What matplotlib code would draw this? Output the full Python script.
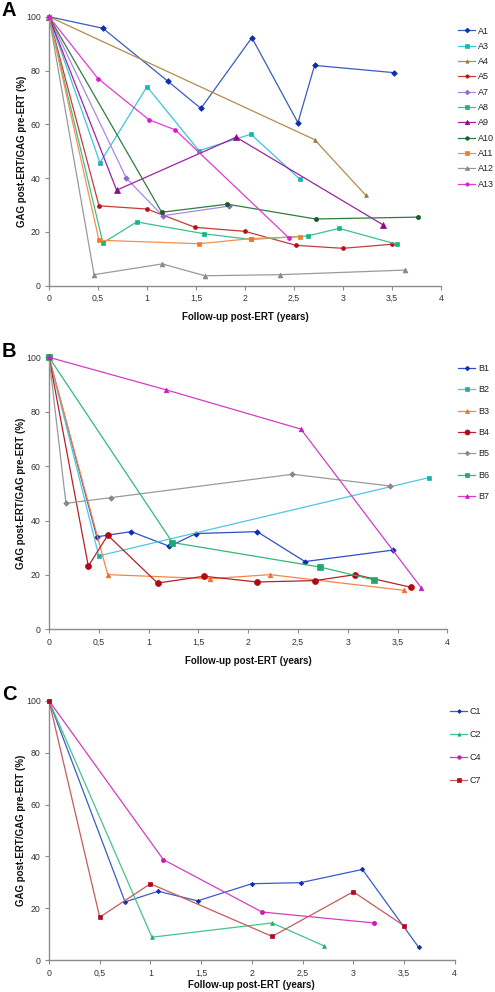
import matplotlib
matplotlib.use("Agg")
import matplotlib.pyplot as plt
from matplotlib.ticker import FixedLocator, FixedFormatter

plt.rcParams['font.family'] = ['Liberation Sans', 'DejaVu Sans']

# ---------------- Panel A data ----------------
A_labels = ["A1", "A3", "A4", "A5", "A7", "A8", "A9", "A10", "A11", "A12", "A13"]
A1_x = [0, 0.55, 1.21, 1.55, 2.07, 2.54, 2.71, 3.52]
A1_y = [100, 95.7, 76.1, 65.9, 92.2, 60.6, 81.9, 79.2]
A3_x = [0, 0.52, 1.0, 1.53, 2.06, 2.56]
A3_y = [100, 45.7, 74.0, 50.2, 56.3, 39.6]
A4_x = [0, 2.71, 3.23]
A4_y = [100, 54.3, 33.7]
A5_x = [0, 0.51, 1.0, 1.49, 2.0, 2.52, 3.0, 3.5]
A5_y = [100, 29.7, 28.5, 21.7, 20.2, 15.0, 13.9, 15.4]
A7_x = [0, 0.79, 1.16, 1.84]
A7_y = [100, 39.9, 26.0, 29.6]
A8_x = [0, 0.55, 0.895, 1.585, 2.06, 2.64, 2.96, 3.55]
A8_y = [100, 15.9, 23.7, 19.3, 17.2, 18.5, 21.3, 15.4]
A9_x = [0, 0.69, 1.91, 3.41]
A9_y = [100, 35.5, 55.2, 22.6]
A10_x = [0, 1.15, 1.82, 2.72, 3.77]
A10_y = [100, 27.3, 30.3, 24.8, 25.5]
A11_x = [0, 0.51, 1.53, 2.06, 2.56]
A11_y = [100, 16.9, 15.6, 17.5, 18.2]
A12_x = [0, 0.46, 1.156, 1.59, 2.36, 3.63]
A12_y = [100, 4.1, 8.1, 3.7, 4.1, 5.8]
A13_x = [0, 0.5, 1.02, 1.29, 2.45]
A13_y = [100, 77.0, 61.7, 57.9, 17.7]

# ---------------- Panel B data ----------------
B_labels = ["B1", "B2", "B3", "B4", "B5", "B6", "B7"]
B1_x = [0, 0.48, 0.825, 1.21, 1.476, 2.09, 2.57, 3.45]
B1_y = [100, 34.0, 35.9, 30.5, 35.2, 35.9, 24.9, 29.1]
B2_x = [0, 0.5, 3.82]
B2_y = [100, 27.0, 55.8]
B3_x = [0, 0.59, 1.62, 2.22, 3.57]
B3_y = [100, 20.1, 18.6, 20.1, 14.3]
B4_x = [0, 0.395, 0.59, 1.09, 1.556, 2.09, 2.67, 3.075, 3.64]
B4_y = [100, 23.2, 34.6, 17.0, 19.5, 17.4, 17.9, 20.1, 15.4]
B5_x = [0, 0.17, 0.62, 2.445, 3.42]
B5_y = [100, 46.3, 48.4, 57.0, 52.7]
B6_x = [0, 1.24, 2.72, 3.26]
B6_y = [100, 31.9, 22.9, 18.2]
B7_x = [0, 1.18, 2.53, 3.74]
B7_y = [100, 88.0, 73.6, 15.2]

# ---------------- Panel C data ----------------
C_labels = ["C1", "C2", "C4", "C7"]
C1_x = [0, 0.75, 1.077, 1.465, 2.0, 2.48, 3.09, 3.645]
C1_y = [100, 22.5, 26.6, 22.9, 29.5, 29.9, 35.0, 5.0]
C2_x = [0, 1.015, 2.2, 2.715]
C2_y = [100, 8.9, 14.4, 5.5]
C4_x = [0, 1.127, 2.1, 3.2]
C4_y = [100, 38.8, 18.6, 14.4]
C7_x = [0, 0.5, 1.0, 2.2, 3.0, 3.5]
C7_y = [100, 16.6, 29.5, 9.2, 26.4, 13.3]

x_ticks = [0, 0.5, 1, 1.5, 2, 2.5, 3, 3.5, 4]
x_tick_labels = ["0", "0,5", "1", "1,5", "2", "2,5", "3", "3,5", "4"]
y_ticks = [0, 20, 40, 60, 80, 100]
y_tick_labels = ["0", "20", "40", "60", "80", "100"]

# styles: (line colour, marker, marker colour, marker size)
A_styles = [
    ("#3a5cc0", "D", "#0c2db0", 2.9),
    ("#3cc6d8", "s", "#1fb3b3", 2.8),
    ("#b38c4a", "^", "#9c7a44", 2.8),
    ("#c83a3a", "o", "#b80f1a", 2.8),
    ("#a888e6", "D", "#8a6cc4", 2.8),
    ("#3cc08a", "s", "#1db384", 2.8),
    ("#a21fa6", "^", "#8a0a90", 3.8),
    ("#2f7d3e", "o", "#1a5a2c", 3.0),
    ("#f49050", "s", "#f27a2c", 2.8),
    ("#9a9a9a", "^", "#8a8a8a", 3.5),
    ("#e43ad6", "o", "#d81cc8", 2.8),
]
B_styles = [
    ("#2e4fc4", "D", "#0c2db0", 2.8),
    ("#4cc8e4", "s", "#20b0a4", 3.4),
    ("#f28646", "^", "#ee7030", 3.4),
    ("#b8202a", "o", "#b00a14", 4.3),
    ("#9a9a9a", "D", "#888888", 2.8),
    ("#34b878", "s", "#20a870", 3.7),
    ("#d23cc6", "^", "#c81cba", 3.3),
]
C_styles = [
    ("#3a5cc8", "D", "#0c2db0", 2.3),
    ("#46c48a", "^", "#20b070", 2.8),
    ("#d63cc0", "o", "#c81cb0", 3.0),
    ("#c85a5a", "s", "#b00a1e", 3.0),
]

W, H = 495, 992
fig = plt.figure(figsize=(W / 100, H / 100), dpi=100)
fig.patch.set_facecolor("white")


def px_axes(left, right, top, bottom):
    return fig.add_axes([left / W, 1 - bottom / H, (right - left) / W, (bottom - top) / H])


def style_axes(ax, xlabel_off):
    ax.set_xlim(0, 4)
    ax.set_ylim(0, 100)
    for s in ("top", "right"):
        ax.spines[s].set_visible(False)
    for s in ("left", "bottom"):
        ax.spines[s].set_color("#8c8c8c")
        ax.spines[s].set_linewidth(1.0)
    ax.xaxis.set_major_locator(FixedLocator(x_ticks))
    ax.xaxis.set_major_formatter(FixedFormatter(x_tick_labels))
    ax.yaxis.set_major_locator(FixedLocator(y_ticks))
    ax.yaxis.set_major_formatter(FixedFormatter(y_tick_labels))
    ax.tick_params(axis="both", which="major", length=3, width=0.8, color="#8c8c8c",
                   labelsize=6.3, labelcolor="#333333", direction="out", pad=3)
    ax.set_xlabel("Follow-up post-ERT (years)", fontsize=7, fontweight="bold", color="#111111")
    ax.set_ylabel("GAG post-ERT/GAG pre-ERT (%)", fontsize=7, fontweight="bold", color="#111111")
    ax.xaxis.set_label_coords(0.5, xlabel_off, transform=ax.transAxes)
    ax.yaxis.set_label_coords(-0.057, 0.5, transform=ax.transAxes)


def draw_panel(ax, labels, xs, ys, styles, leg_x, leg_y, spacing):
    handles = []
    for lab, x, y, (lc, mk, mc, ms) in zip(labels, xs, ys, styles):
        h, = ax.plot(x, y, color=lc, lw=0.9, marker=mk, markersize=ms,
                     markerfacecolor=mc, markeredgecolor=mc, markeredgewidth=0.5,
                     label=lab, clip_on=False, zorder=3)
        handles.append(h)
    leg = fig.legend(handles=handles, labels=labels, loc="upper left",
                     bbox_to_anchor=(leg_x / W, 1 - leg_y / H), frameon=False,
                     fontsize=6.5, handlelength=1.9, handletextpad=0.3,
                     labelspacing=spacing, borderaxespad=0, borderpad=0,
                     markerscale=0.85)
    for t in leg.get_texts():
        t.set_color("#222222")
    return leg


# Panel A
axA = px_axes(49, 441, 16.7, 285.7)
style_axes(axA, -0.098)
draw_panel(axA, A_labels,
           [A1_x, A3_x, A4_x, A5_x, A7_x, A8_x, A9_x, A10_x, A11_x, A12_x, A13_x],
           [A1_y, A3_y, A4_y, A5_y, A7_y, A8_y, A9_y, A10_y, A11_y, A12_y, A13_y],
           A_styles, 458, 26.5, 0.7)

# Panel B
axB = px_axes(49, 447.3, 357.3, 629.3)
style_axes(axB, -0.098)
draw_panel(axB, B_labels,
           [B1_x, B2_x, B3_x, B4_x, B5_x, B6_x, B7_x],
           [B1_y, B2_y, B3_y, B4_y, B5_y, B6_y, B7_y],
           B_styles, 458, 364, 1.37)

# Panel C
axC = px_axes(49, 454.7, 700.7, 960.3)
style_axes(axC, -0.076)
draw_panel(axC, C_labels,
           [C1_x, C2_x, C4_x, C7_x],
           [C1_y, C2_y, C4_y, C7_y],
           C_styles, 450, 707.5, 1.55)

# panel letters
for letter, ypx in (("A", 10.5), ("B", 351.5), ("C", 695)):
    fig.text(2 / W, 1 - ypx / H, letter, fontsize=14.5, fontweight="bold",
             ha="left", va="center", color="#000000")

fig.savefig("out.png", dpi=100, facecolor="white")
